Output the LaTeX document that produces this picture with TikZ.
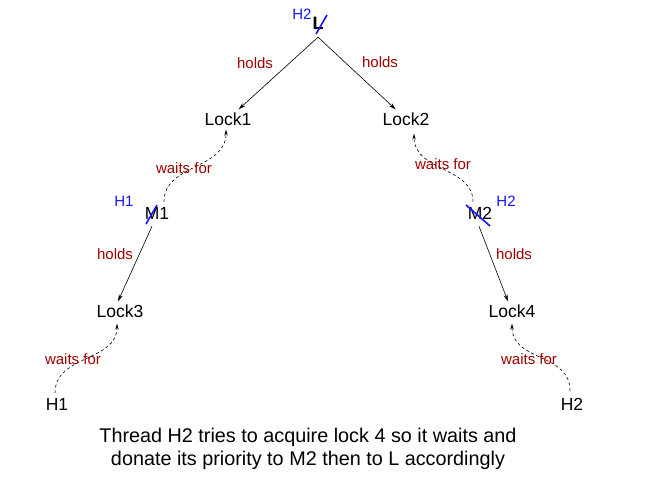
\documentclass[tikz,border=0pt]{standalone}
\usepackage{fontspec}
\setmainfont{Liberation Sans}
\usetikzlibrary{arrows.meta}
\definecolor{lblred}{RGB}{160,0,0}
\definecolor{hblue}{RGB}{20,20,255}
\tikzset{
  item/.style={font=\fontsize{17.5}{20}\selectfont, inner sep=3pt, text=black},
  rel/.style={font=\fontsize{15}{18}\selectfont, text=lblred, inner sep=0pt},
  prio/.style={font=\fontsize{15}{18}\selectfont, text=hblue, inner sep=0pt},
  holdarrow/.style={-{Stealth[length=7pt,width=4pt]}, line width=0.6pt},
  waitarrow/.style={-{Stealth[length=6pt,width=3.5pt]}, dashed, dash pattern=on 3pt off 2.5pt, line width=0.6pt},
  slash/.style={hblue, line width=1.6pt},
}
\begin{document}
\begin{tikzpicture}[x=1pt,y=-1pt]
\useasboundingbox (0,0) rectangle (663,492);
% nodes
\node[item, font=\fontsize{18}{20}\selectfont\bfseries, minimum height=28pt] (L) at (318,23) {L};
\node[item] (Lock1) at (228,119) {Lock1};
\node[item] (Lock2) at (406,119) {Lock2};
\node[item] (M1) at (157,213) {M1};
\node[item] (M2) at (480,213) {M2};
\node[item] (Lock3) at (120,311) {Lock3};
\node[item] (Lock4) at (512,311) {Lock4};
\node[item] (H1) at (57,404) {H1};
\node[item] (H2) at (572,404) {H2};
% priority labels
\node[prio] (pL) at (302,14) {H2};
\node[prio] (pM1) at (124,201) {H1};
\node[prio] (pM2) at (506,201) {H2};
% holds
\draw[holdarrow] (L.south) -- (Lock1);
\draw[holdarrow] (L.south) -- (Lock2);
\draw[holdarrow] ([xshift=-5pt,yshift=-4pt]M1.south) -- ([xshift=-2pt]Lock3.north);
\draw[holdarrow] ([xshift=-1pt,yshift=-4pt]M2.south) -- ([xshift=-4pt]Lock4.north);
\node[rel] (h1) at (255,63) {holds};
\node[rel] (h2) at (380,62) {holds};
\node[rel] (h3) at (115,254) {holds};
\node[rel] (h4) at (514,254) {holds};
% waits for
\draw[waitarrow] ([xshift=7pt,yshift=2pt]M1.north) .. controls +(0,-38) and +(0,40) .. ([xshift=-2pt,yshift=-1pt]Lock1.south);
\draw[waitarrow] ([xshift=-7pt,yshift=2pt]M2.north) .. controls +(0,-35) and +(0,38) .. ([xshift=8pt,yshift=-5pt]Lock2.south);
\draw[waitarrow] ([xshift=-2pt,yshift=2pt]H1.north) .. controls +(0,-38) and +(0,38) .. ([xshift=-3pt,yshift=-3pt]Lock3.south);
\draw[waitarrow] ([xshift=-2pt,yshift=4pt]H2.north) .. controls +(0,-38) and +(0,38) .. ([yshift=-3pt]Lock4.south);
\node[rel] (w1) at (184,168) {waits for};
\node[rel] (w2) at (443,164) {waits for};
\node[rel] (w3) at (73,359) {waits for};
\node[rel] (w4) at (529,359) {waits for};
% blue strike-outs
\draw[slash] ([shift={(-2,11)}]L.center) -- ([shift={(9,-8)}]L.center);
\draw[slash] ([shift={(-11,11)}]M1.center) -- ([shift={(0,-8)}]M1.center);
\draw[slash] ([shift={(-14,-8)}]M2.center) -- ([shift={(10,13)}]M2.center);
% caption
\node[font=\fontsize{19.8}{23}\selectfont, align=center, inner sep=0pt] (cap) at (308,449) {Thread H2 tries to acquire lock 4 so it waits and\\donate its priority to M2 then to L accordingly};
\end{tikzpicture}
\end{document}
